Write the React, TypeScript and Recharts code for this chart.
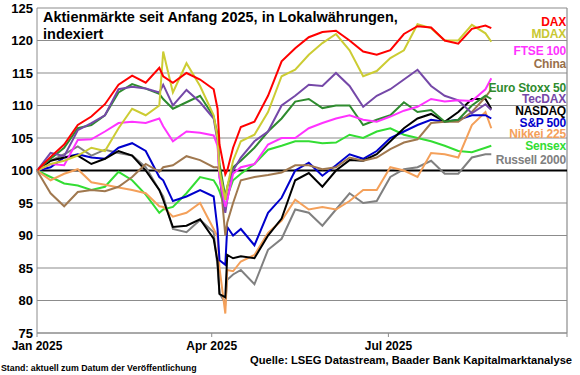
import { LineChart, Line, XAxis, YAxis, CartesianGrid, ReferenceLine } from "recharts";

const FONT = "'Liberation Sans', Arial, Helvetica, sans-serif";

// day offsets since 1 Jan 2025
const DAYS = [0, 7, 14, 21, 28, 35, 42, 49, 56, 63, 65, 70, 77, 84, 91, 93, 94, 97, 98, 101, 105, 112, 119, 126, 133, 140, 147, 154, 161, 168, 175, 182, 189, 196, 203, 210, 217, 224, 231, 234];

const DAX = [100, 102.1, 104, 107, 108.3, 110.2, 113.2, 114.6, 113.5, 115.8, 114.5, 113.5, 115, 114, 112.5, 109.5, 104, 99.4, 100, 103.5, 106.7, 107.5, 111.5, 116.8, 118.8, 120.5, 121.3, 121.5, 120, 118.3, 117.8, 118.5, 121, 122.2, 122, 120, 119.5, 121.8, 122.3, 121.9];
const MDAX = [100, 101, 101.5, 102.3, 103.5, 103, 106.5, 109.5, 108.5, 110, 118.3, 112, 116.5, 113, 108.5, 105, 100, 95.5, 97.5, 101.5, 104.5, 105.5, 109, 114.5, 115.5, 117.8, 119.6, 121, 118.5, 114.5, 115.3, 117.3, 118.5, 122.5, 121.9, 120, 120, 122.4, 121.1, 119.8];
const FTSE = [100, 101, 100.8, 104.7, 104.8, 106, 107.3, 107.5, 107.3, 108, 106.8, 104.5, 106, 105.8, 105.4, 103.8, 99, 94.4, 95.5, 99.5, 100.5, 101, 104, 105, 105, 106.5, 107.3, 108, 108.5, 107.8, 107.5, 108.3, 109.2, 109.8, 111, 110.6, 110.8, 110.7, 112.5, 114.2];
const CHINA = [100, 96.5, 94.5, 96.7, 97, 96.8, 97.5, 99, 101, 99.8, 100.5, 100.8, 102.2, 101.6, 100.5, 100.5, 100, 90, 92, 95, 98.5, 99, 99.3, 99.7, 100.8, 100.8, 100.2, 100.5, 102, 101.5, 102, 103.3, 104.3, 104.8, 107.3, 107.5, 107.5, 109, 111.3, 112.5];
const STOXX = [100, 101.8, 103.5, 106.5, 107, 108.5, 112, 113.3, 112.6, 111.8, 111, 109.5, 110.5, 111.5, 108.3, 105.5, 101, 96, 97.5, 100.5, 101.5, 103.5, 106, 108, 110.6, 111, 109.6, 110, 110, 107, 107.8, 108.5, 110.5, 109, 109.3, 107.5, 107.8, 110, 111.5, 111];
const TECDAX = [100, 102.7, 102.2, 106.2, 107.3, 108.5, 112.5, 112.9, 112.6, 112, 113.2, 110, 112.4, 110.5, 108, 104.5, 99, 93.5, 95.5, 100, 102, 104.5, 106, 110, 111.5, 113.2, 113, 115, 113, 109.8, 111.5, 112.5, 114, 115.5, 113, 111.5, 110.8, 108.8, 110.2, 109.3];
const NASDAQ = [100, 101.5, 102, 102.3, 101, 101.8, 103, 102.3, 100, 97, 95.5, 91.3, 91.5, 92.5, 89.5, 86, 81, 80.5, 87, 86.5, 86.8, 86.5, 90, 92.6, 98.5, 99.6, 97.5, 100, 101.6, 101.5, 102.5, 104.5, 106.5, 108, 108.7, 107.5, 109, 111, 111, 109.5];
const SP500 = [100, 100.5, 102, 102.5, 102, 101.8, 103.5, 104.2, 103, 99, 98.5, 95.3, 96, 97, 96, 91, 86.2, 85.5, 91.3, 90, 91, 88.5, 93.5, 95.8, 100, 101.2, 99.2, 100.8, 102.5, 101.8, 103, 105, 106, 107, 107.8, 107.5, 107.8, 108.5, 108.5, 108];
const NIKKEI = [100, 98.5, 99.5, 100.2, 98.2, 97.8, 97.4, 97, 96.5, 94.5, 94.4, 92.9, 93.5, 95, 91, 89.8, 85, 78, 84.7, 84.5, 86, 87, 90.4, 92.3, 95.5, 94, 94.4, 94, 95.3, 97, 97, 100.5, 100, 99, 102.7, 102.5, 102, 107, 109, 106.5];
const SENSEX = [100, 99, 98, 97.7, 97, 97.5, 99.8, 98.5, 96.3, 93.5, 94, 94.4, 96.5, 99, 98.5, 97.5, 96.8, 94, 96, 98.5, 99.5, 101, 103.2, 103.8, 104.5, 104.5, 104.2, 104.3, 105.5, 105, 106, 106.5, 105.5, 105, 104.5, 103.8, 103, 102.8, 103.5, 103.8];
const RUSSELL = [100, 101.5, 102.5, 103.7, 102.3, 103.2, 102.7, 102.3, 100.5, 97, 96, 91, 90.5, 92.4, 90.5, 85.2, 81.1, 79.6, 83.2, 84, 84.7, 82.5, 87.8, 89.5, 94, 93.5, 91.5, 94, 96.5, 95, 95.3, 99, 100.2, 100.5, 101.5, 99.5, 99.5, 102, 102.5, 102.5];

const X_TICKS = [0, 90, 181, 273];
const X_LABELS = ["Jan 2025", "Apr 2025", "Jul 2025", ""];
const Y_TICKS = [75, 80, 85, 90, 95, 100, 105, 110, 115, 120, 125];

// drawing order: first is bottom
const SERIES = [
  { key: "russell", name: "Russell 2000", color: "#808080", values: RUSSELL },
  { key: "sensex", name: "Sensex", color: "#33dd33", values: SENSEX },
  { key: "nikkei", name: "Nikkei 225", color: "#f4a05a", values: NIKKEI },
  { key: "sp500", name: "S&P 500", color: "#0000cc", values: SP500 },
  { key: "nasdaq", name: "NASDAQ", color: "#000000", values: NASDAQ },
  { key: "china", name: "China", color: "#a0784f", values: CHINA },
  { key: "stoxx", name: "Euro Stoxx 50", color: "#2e8b2e", values: STOXX },
  { key: "tecdax", name: "TecDAX", color: "#7548a8", values: TECDAX },
  { key: "ftse", name: "FTSE 100", color: "#ff33ff", values: FTSE },
  { key: "mdax", name: "MDAX", color: "#cccc33", values: MDAX },
  { key: "dax", name: "DAX", color: "#ff0000", values: DAX },
];

// legend labels and their vertical centres on the right edge
const LABELS = [
  { name: "DAX", color: "#ff0000", y: 22 },
  { name: "MDAX", color: "#c8c832", y: 34 },
  { name: "FTSE 100", color: "#ff33ff", y: 51 },
  { name: "China", color: "#99704a", y: 64 },
  { name: "Euro Stoxx 50", color: "#2e8b2e", y: 88 },
  { name: "TecDAX", color: "#7548a8", y: 99 },
  { name: "NASDAQ", color: "#000000", y: 111 },
  { name: "S&P 500", color: "#0000cc", y: 122.5 },
  { name: "Nikkei 225", color: "#f4a05a", y: 133.5 },
  { name: "Sensex", color: "#33dd33", y: 146 },
  { name: "Russell 2000", color: "#808080", y: 160 },
];

const data = DAYS.map((day, i) => {
  const row: Record<string, number> = { day };
  SERIES.forEach((s) => (row[s.key] = s.values[i]));
  return row;
});

function SideLabels() {
  return (
    <div style={{ position: "absolute", left: 0, top: 0, width: 580, height: 375, pointerEvents: "none" }}>
      {LABELS.map((l) => (
        <div
          key={l.name}
          style={{
            position: "absolute",
            right: 14,
            top: l.y - 6,
            fontSize: 12,
            lineHeight: "12px",
            fontWeight: "bold",
            color: l.color,
            letterSpacing: -0.2,
            whiteSpace: "nowrap",
          }}
        >
          {l.name}
        </div>
      ))}
    </div>
  );
}

export default function App() {
  return (
    <div style={{ position: "absolute", left: 0, top: 0, width: 580, height: 375, background: "#fff", fontFamily: FONT }}>
      <LineChart width={580} height={375} data={data} margin={{ top: 8, right: 13, bottom: 0, left: 0 }}>
        <CartesianGrid vertical={false} stroke="#8c8c8c" strokeWidth={1.2} />
        <XAxis
          dataKey="day"
          type="number"
          domain={[0, 273]}
          ticks={X_TICKS}
          interval={0}
          tickFormatter={(v: number) => X_LABELS[X_TICKS.indexOf(v)] ?? ""}
          height={42}
          stroke="#8c8c8c"
          tickSize={4}
          tickMargin={4}
          tick={{ fontSize: 12, fontWeight: "bold", fill: "#000", fontFamily: FONT }}
        />
        <YAxis
          domain={[75, 125]}
          ticks={Y_TICKS}
          interval={0}
          width={37}
          stroke="#8c8c8c"
          tickLine={false}
          tickSize={2}
          tickMargin={2}
          tick={{ fontSize: 13, fontWeight: "bold", fill: "#000", fontFamily: FONT }}
        />
        <ReferenceLine x={273} stroke="#8c8c8c" strokeWidth={1.2} />
        <ReferenceLine y={100} stroke="#000" strokeWidth={2} />
        {SERIES.map((s) => (
          <Line
            key={s.key}
            dataKey={s.key}
            name={s.name}
            stroke={s.color}
            strokeWidth={2}
            dot={false}
            type="linear"
            isAnimationActive={false}
          />
        ))}
      </LineChart>
      <div
        style={{
          position: "absolute",
          left: 43,
          top: 9,
          fontSize: 14.5,
          lineHeight: "17px",
          fontWeight: "bold",
          color: "#000",
        }}
      >
        Aktienmärkte seit Anfang 2025, in Lokalwährungen,
        <br />
        indexiert
      </div>
      <SideLabels />
      <div style={{ position: "absolute", left: 250, top: 354, fontSize: 11.2, fontWeight: "bold", color: "#000", whiteSpace: "nowrap" }}>
        Quelle: LSEG Datastream, Baader Bank Kapitalmarktanalyse
      </div>
      <div style={{ position: "absolute", left: 1, top: 363, fontSize: 8.8, fontWeight: "bold", color: "#000", whiteSpace: "nowrap" }}>
        Stand: aktuell zum Datum der Veröffentlichung
      </div>
    </div>
  );
}
